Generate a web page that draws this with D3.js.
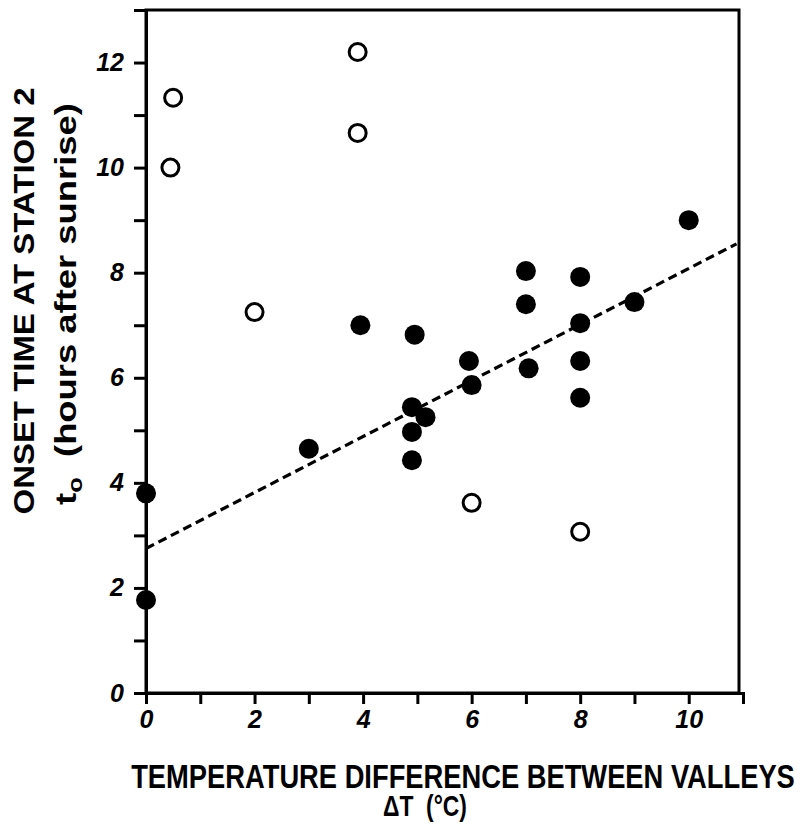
<!DOCTYPE html>
<html>
<head>
<meta charset="utf-8">
<script src="https://cdn.jsdelivr.net/npm/d3@7/dist/d3.min.js"></script>
<style>
  body { margin: 0; background: #fff; }
  text { font-family: 'Liberation Sans', Arial, sans-serif; fill: #000; }
</style>
</head>
<body>
<div id="chart"></div>
<script>
// filled circles: observations used in the fit
const filledX = [0, 0, 3, 4.9, 4.9, 5.15, 4.9, 3.95, 4.95, 5.95, 6, 7, 7, 7.05, 8, 8, 8, 8, 9, 10]
const filledY = [3.8, 1.77, 4.65, 4.43, 4.97, 5.25, 5.44, 7.0, 6.82, 6.32, 5.86, 8.03, 7.4, 6.18, 7.92, 7.04, 6.32, 5.62, 7.44, 9.0]

// open circles: excluded cases
const openX = [0.45, 0.5, 3.9, 3.9, 2, 6, 8]
const openY = [10.0, 11.33, 12.2, 10.66, 7.25, 3.62, 3.07]

// dashed regression line
const fitIntercept = 2.75
const fitSlope = 0.533
const fitRange = [0, 10.88]

const yTicks = [0, 2, 4, 6, 8, 10, 12]
const xTicks = [0, 2, 4, 6, 8, 10]

const width = 807
const height = 825

const svg = d3
  .select('#chart')
  .append('svg')
  .attr('width', width)
  .attr('height', height)

const x = d3.scaleLinear().domain([0, 11]).range([146, 743])
const y = d3.scaleLinear().domain([0, 13]).range([693, 10])

// frame
svg
  .append('rect')
  .attr('x', x(0))
  .attr('y', y(13))
  .attr('width', x(11) - x(0) - 4)
  .attr('height', y(0) - y(13))
  .attr('fill', 'none')
  .attr('stroke', '#000')
  .attr('stroke-width', 3)

// y axis
const yAxis = d3
  .axisLeft(y)
  .tickValues(d3.range(0, 13, 1))
  .tickSize(12)
  .tickFormat(d => (yTicks.includes(d) ? d : ''))

const gy = svg
  .append('g')
  .attr('transform', `translate(${x(0)},0)`)
  .call(yAxis)
gy.select('.domain').attr('stroke-width', 3)
gy.selectAll('line').attr('stroke-width', 3)
gy.selectAll('text')
  .attr('x', -22)
  .style('font-family', "'Liberation Sans', Arial, sans-serif")
  .style('font-size', '25px')
  .style('font-weight', 'bold')
  .style('font-style', 'italic')

// x axis
const xAxis = d3
  .axisBottom(x)
  .tickValues(d3.range(0, 12, 1))
  .tickSize(11)
  .tickFormat(d => (xTicks.includes(d) ? d : ''))

const gx = svg
  .append('g')
  .attr('transform', `translate(0,${y(0)})`)
  .call(xAxis)
gx.select('.domain').attr('stroke-width', 3)
gx.selectAll('line').attr('stroke-width', 3)
gx.selectAll('text')
  .attr('y', 17)
  .style('font-family', "'Liberation Sans', Arial, sans-serif")
  .style('font-size', '25px')
  .style('font-weight', 'bold')
  .style('font-style', 'italic')

// regression line
svg
  .append('line')
  .attr('x1', x(fitRange[0]))
  .attr('y1', y(fitIntercept + fitSlope * fitRange[0]))
  .attr('x2', x(fitRange[1]))
  .attr('y2', y(fitIntercept + fitSlope * fitRange[1]))
  .attr('stroke', '#000')
  .attr('stroke-width', 3.2)
  .attr('stroke-dasharray', '9,5')

// open circles
svg
  .selectAll('.open')
  .data(openX.map((d, i) => [d, openY[i]]))
  .enter()
  .append('circle')
  .attr('class', 'open')
  .attr('cx', d => x(d[0]))
  .attr('cy', d => y(d[1]))
  .attr('r', 8.5)
  .attr('fill', '#fff')
  .attr('stroke', '#000')
  .attr('stroke-width', 3)

// filled circles
svg
  .selectAll('.filled')
  .data(filledX.map((d, i) => [d, filledY[i]]))
  .enter()
  .append('circle')
  .attr('class', 'filled')
  .attr('cx', d => x(d[0]))
  .attr('cy', d => y(d[1]))
  .attr('r', 10)
  .attr('fill', '#000')

// stretch a text along its own direction so it spans `len` pixels
function fitText(sel, cx, cy, angle, len) {
  const w = sel.node().getComputedTextLength()
  sel.attr('transform', `translate(${cx},${cy}) rotate(${angle}) scale(${len / w},1)`)
}

// axis titles
const xTitle = svg
  .append('text')
  .attr('text-anchor', 'middle')
  .style('font-size', '34px')
  .style('font-weight', 'bold')
  .text('TEMPERATURE DIFFERENCE BETWEEN VALLEYS')
fitText(xTitle, 463, 788, 0, 664)

const dT = svg
  .append('text')
  .attr('text-anchor', 'middle')
  .style('font-size', '30px')
  .style('font-weight', 'bold')
  .text('ΔT\u00a0\u00a0(°C)')
fitText(dT, 425, 816, 0, 84)

const yTitle = svg
  .append('text')
  .attr('text-anchor', 'middle')
  .style('font-size', '30px')
  .style('font-weight', 'bold')
  .text('ONSET TIME AT STATION 2')
fitText(yTitle, 34, 301, -90, 427)

const sub = svg
  .append('text')
  .attr('text-anchor', 'middle')
  .style('font-size', '30px')
  .style('font-weight', 'bold')
sub.append('tspan').text('t')
sub.append('tspan').attr('dy', 6).style('font-size', '21px').text('o')
sub.append('tspan').attr('dy', -6).text('\u00a0\u00a0(hours after sunrise)')
fitText(sub, 76, 304, -90, 402)
</script>
</body>
</html>
